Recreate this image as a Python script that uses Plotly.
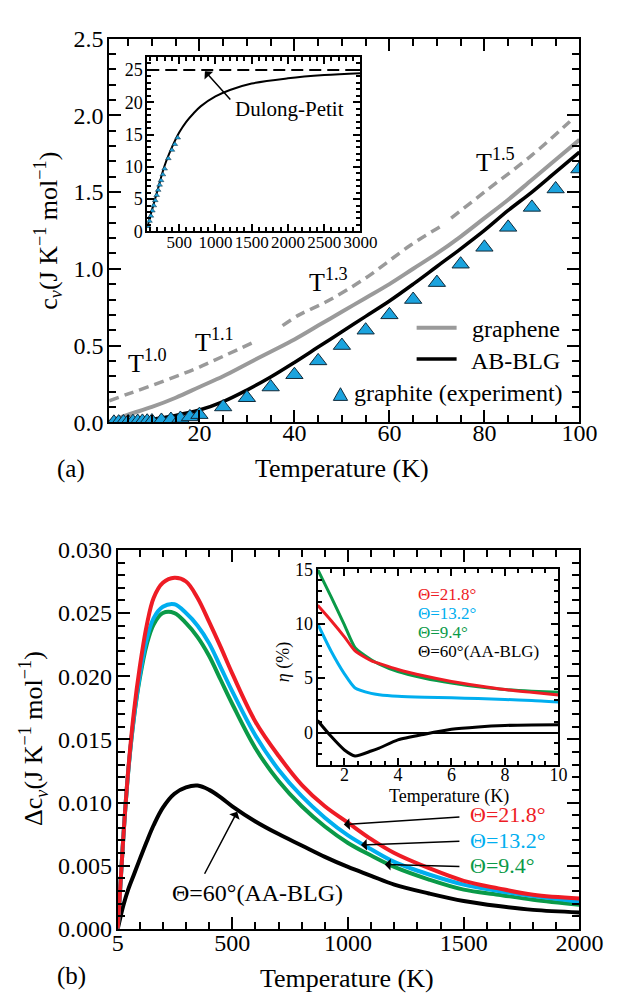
import plotly.graph_objects as go

# ---------------- Panel (a) data ----------------
T_a = [1, 5, 10, 15, 20, 25, 30, 35, 40, 45, 50, 55, 60, 65, 70, 75, 80, 85, 90, 95, 100]
cv_graphene = [0.005, 0.05, 0.10, 0.16, 0.23, 0.30, 0.38, 0.46, 0.54, 0.63, 0.72, 0.81, 0.90,
               1.00, 1.10, 1.21, 1.33, 1.45, 1.58, 1.71, 1.84]
cv_ab_blg = [0.0, 0.005, 0.02, 0.045, 0.08, 0.135, 0.21, 0.295, 0.39, 0.49, 0.59, 0.69, 0.79,
             0.90, 1.015, 1.13, 1.25, 1.38, 1.50, 1.63, 1.76]

T_exp = [2, 3, 4, 5, 6, 7, 8, 9, 10, 12, 14, 16, 18, 20, 25, 30, 35, 40, 45, 50, 55, 60, 65,
         70, 75, 80, 85, 90, 95, 100]
cv_exp = [0.0, 0.001, 0.002, 0.003, 0.004, 0.005, 0.006, 0.007, 0.008, 0.012, 0.018, 0.025,
          0.035, 0.05, 0.10, 0.16, 0.23, 0.31, 0.40, 0.50, 0.60, 0.70, 0.80, 0.91, 1.03, 1.14,
          1.27, 1.40, 1.52, 1.65]

# power-law fit guides (dashed)
fit1_T = [1, 5, 10, 16, 20, 25, 32]
fit1_v = [0.14, 0.185, 0.24, 0.31, 0.36, 0.43, 0.53]
fit2_T = [37.5, 41, 47, 55, 64.5, 71]
fit2_v = [0.63, 0.70, 0.79, 0.94, 1.155, 1.28]
fit3_T = [73, 80, 90, 98]
fit3_v = [1.33, 1.50, 1.74, 1.96]

# inset (a)
T_in = [60, 100, 200, 300, 400, 500, 600, 700, 800, 1000, 1200, 1500, 2000, 2500, 3000]
cv_in = [0.6, 2.3, 6.3, 10.2, 13.0, 15.3, 17.0, 18.3, 19.4, 20.9, 21.9, 22.9, 23.7, 24.2, 24.5]
T_in_exp = [70, 90, 110, 130, 150, 170, 190, 210, 230, 250, 275, 300, 350, 400, 440, 480]
cv_in_exp = [0.8, 1.6, 2.4, 3.2, 4.0, 4.8, 5.6, 6.4, 7.2, 7.9, 8.8, 9.7, 11.3, 12.6, 13.5, 14.5]
dulong_petit = 25.0

# ---------------- Panel (b) data ----------------
T_b = [5, 15, 30, 50, 75, 100, 130, 160, 200, 250, 300, 350, 400, 450, 500, 600, 700, 800,
       900, 1000, 1100, 1200, 1350, 1500, 1650, 1800, 2000]
dcv_218 = [0, 0.0030, 0.0075, 0.0125, 0.0172, 0.0207, 0.0240, 0.0262, 0.0274, 0.0278, 0.0275,
           0.0262, 0.0243, 0.0223, 0.0202, 0.0164, 0.0137, 0.0114, 0.0097, 0.0084, 0.0071,
           0.0060, 0.0048, 0.0038, 0.0032, 0.0027, 0.0024]
dcv_132 = [0, 0.0030, 0.0075, 0.0124, 0.0168, 0.0200, 0.0229, 0.0246, 0.0255, 0.0257, 0.0250,
           0.0240, 0.0226, 0.0207, 0.0188, 0.0153, 0.0126, 0.0105, 0.0088, 0.0074, 0.0063,
           0.0053, 0.0043, 0.0035, 0.0030, 0.0026, 0.00216]
dcv_94 = [0, 0.0030, 0.0075, 0.0124, 0.0167, 0.0198, 0.0225, 0.0241, 0.0250, 0.0250, 0.0242,
          0.0231, 0.0216, 0.0197, 0.0178, 0.0143, 0.0117, 0.0097, 0.0081, 0.0068, 0.0058,
          0.0049, 0.0039, 0.0031, 0.0027, 0.0023, 0.0019]
dcv_60 = [0, 0.0008, 0.0019, 0.0031, 0.0043, 0.0055, 0.0069, 0.0082, 0.0096, 0.0107, 0.0112,
          0.01134, 0.0110, 0.0104, 0.0097, 0.0085, 0.0075, 0.0066, 0.0057, 0.0049, 0.0042,
          0.0035, 0.0028, 0.0022, 0.0018, 0.0015, 0.0013]

# inset (b)
T_eta = [1.0, 1.5, 2.0, 2.4, 3.0, 3.3, 4.0, 5.0, 6.0, 7.0, 8.0, 9.0, 10.0]
eta_218 = [11.7, 10.3, 8.8, 7.5, 6.6, 6.35, 5.8, 5.2, 4.7, 4.3, 3.95, 3.7, 3.45]
eta_132 = [10.0, 7.5, 5.4, 4.1, 3.6, 3.48, 3.34, 3.25, 3.19, 3.12, 3.04, 2.95, 2.8]
eta_94 = [15.0, 12.5, 9.9, 7.8, 6.7, 6.3, 5.6, 5.0, 4.55, 4.2, 3.95, 3.8, 3.7]
eta_60 = [1.1, -0.35, -1.6, -2.15, -1.7, -1.43, -0.68, -0.15, 0.3, 0.52, 0.65, 0.7, 0.72]

# ---------------- styling ----------------
FONT = "Liberation Serif, Times New Roman, serif"
W, H = 623, 1002
GRAY = "#9a9a9a"
RED = "#ee1c25"
BLUE = "#00aeef"
GREEN = "#0a9a48"
TRI = "#1ba3de"


def px(x):
    return x / W


def py(y):
    return 1 - y / H


fig = go.Figure()

# panel (a) main
for fx, fy in [(fit1_T, fit1_v), (fit2_T, fit2_v), (fit3_T, fit3_v)]:
    fig.add_trace(go.Scatter(x=fx, y=fy, mode="lines", xaxis="x", yaxis="y",
                             line=dict(color=GRAY, width=3.5, dash="10px,6px", shape="spline")))
fig.add_trace(go.Scatter(x=T_a, y=cv_graphene, mode="lines", xaxis="x", yaxis="y",
                         line=dict(color=GRAY, width=4, shape="spline")))
fig.add_trace(go.Scatter(x=T_a, y=cv_ab_blg, mode="lines", xaxis="x", yaxis="y",
                         line=dict(color="black", width=3.5, shape="spline")))
fig.add_trace(go.Scatter(x=T_exp, y=cv_exp, mode="markers", xaxis="x", yaxis="y",
                         marker=dict(symbol="triangle-up", size=15, color=TRI,
                                     line=dict(color="#102a3a", width=1))))

# inset (a)
fig.add_trace(go.Scatter(x=T_in, y=cv_in, mode="lines", xaxis="x2", yaxis="y2",
                         line=dict(color="black", width=2, shape="spline")))
fig.add_trace(go.Scatter(x=T_in_exp, y=cv_in_exp, mode="markers", xaxis="x2", yaxis="y2",
                         marker=dict(symbol="triangle-up", size=5, color=TRI,
                                     line=dict(color="#102a3a", width=0.5))))

# panel (b) main
for yv, col in [(dcv_60, "black"), (dcv_94, GREEN), (dcv_132, BLUE), (dcv_218, RED)]:
    fig.add_trace(go.Scatter(x=T_b, y=yv, mode="lines", xaxis="x3", yaxis="y3",
                             line=dict(color=col, width=4, shape="spline")))

# inset (b)
for yv, col in [(eta_60, "black"), (eta_132, BLUE), (eta_94, GREEN), (eta_218, RED)]:
    fig.add_trace(go.Scatter(x=T_eta, y=yv, mode="lines", xaxis="x4", yaxis="y4",
                             line=dict(color=col, width=3, shape="spline", smoothing=0.6)))


def axis(domain, rng, dtick, tick0, mdtick, fsize, tlen, mlen, anchor, fmt=None,
         tickvals=None, zeroline=False, standoff=0):
    d = dict(domain=domain, range=rng, anchor=anchor, showline=True, linecolor="black",
             linewidth=2, mirror="allticks", ticks="inside", ticklen=tlen, tickwidth=2,
             tickcolor="black", showgrid=False, zeroline=zeroline, tickangle=0,
             ticklabelstandoff=standoff,
             tickfont=dict(family=FONT, size=fsize, color="black"),
             minor=dict(ticks="inside", ticklen=mlen, tickwidth=1.5, tickcolor="black",
                        dtick=mdtick, tick0=0, showgrid=False))
    if tickvals is not None:
        d.update(tickmode="array", tickvals=tickvals)
    else:
        d.update(tickmode="linear", dtick=dtick, tick0=tick0)
    if fmt:
        d["tickformat"] = fmt
    if zeroline:
        d.update(zerolinecolor="black", zerolinewidth=1.5)
    return d


fig.update_layout(
    width=W, height=H, margin=dict(l=0, r=0, t=0, b=0),
    paper_bgcolor="white", plot_bgcolor="white", showlegend=False,
    font=dict(family=FONT, color="black"),
    xaxis=axis([px(100), px(594)], [1, 100], 20, 0, 5, 24, 12, 7, "y", standoff=-12),
    yaxis=axis([py(412), py(18)], [0, 2.5], 0.5, 0, 0.1, 24, 12, 7, "x", fmt=".1f", standoff=-1),
    xaxis2=axis([px(140), px(364)], [60, 3000], 500, 0, 100, 17, 7, 4, "y2", standoff=-6),
    yaxis2=axis([py(216), py(37)], [0, 27], 5, 0, 1, 18, 7, 4, "x2", standoff=-1),
    xaxis3=axis([px(109), px(594)], [5, 2000], None, None, 100, 24, 12, 7, "y3",
                tickvals=[5, 500, 1000, 1500, 2000], standoff=-9),
    yaxis3=axis([py(932), py(543)], [0, 0.030], 0.005, 0, 0.001, 24, 12, 7, "x3", fmt=".3f",
                standoff=-1),
    xaxis4=axis([px(319), px(572)], [1, 10], 2, 0, 0.5, 18, 7, 4, "y4", standoff=-8),
    yaxis4=axis([py(764), py(563)], [-3, 15], 5, 0, 1, 18, 7, 4, "x4", zeroline=True,
                standoff=-1),
)

# Dulong-Petit limit line in inset (a)
fig.add_shape(type="line", xref="x2 domain", yref="y2", x0=0, x1=1, y0=dulong_petit,
              y1=dulong_petit, line=dict(color="black", width=2, dash="12px,6px"))

# legend of panel (a)
fig.add_shape(type="line", xref="paper", yref="paper", x0=px(423), x1=px(465), y0=py(315),
              y1=py(315), line=dict(color=GRAY, width=4))
fig.add_shape(type="line", xref="paper", yref="paper", x0=px(423), x1=px(465), y0=py(347),
              y1=py(347), line=dict(color="black", width=3.5))
fig.add_shape(type="path", xref="paper", yref="paper",
              path=f"M {px(335.5)},{py(389.5)} L {px(350.5)},{py(389.5)} L {px(343)},{py(376.5)} Z",
              fillcolor=TRI, line=dict(color="#102a3a", width=1))

ann = []


def text(x, y, s, size, color="black", xanchor="center", yanchor="middle", angle=0):
    ann.append(dict(x=px(x), y=py(y), xref="paper", yref="paper", text=s, showarrow=False,
                    font=dict(family=FONT, size=size, color=color), xanchor=xanchor,
                    yanchor=yanchor, textangle=angle))


def arrow(xr, yr, x, y, ax, ay, width=1.5):
    ann.append(dict(x=x, y=y, ax=ax, ay=ay, xref=xr, yref=yr, axref=xr, ayref=yr, text="",
                    showarrow=True, arrowhead=1, arrowsize=1.3, arrowwidth=width,
                    arrowcolor="black"))


# panel (a) texts
text(576, 316, "graphene", 24, xanchor="right")
text(576, 349, "AB-BLG", 24, xanchor="right")
text(579, 382, "graphite (experiment)", 24, xanchor="right")
text(118, 350, "T<sup>1.0</sup>", 26, xanchor="left")
text(188, 328, "T<sup>1.1</sup>", 26, xanchor="left")
text(308, 266, "T<sup>1.3</sup>", 26, xanchor="left")
text(483, 143, "T<sup>1.5</sup>", 26, xanchor="left")
text(289, 90, "Dulong-Petit", 21)
text(345, 459, "Temperature (K)", 26)
text(36, 215, "c<sub><i>v</i></sub>(J K<sup>\u22121</sup> mol<sup>\u22121</sup>)", 26, angle=-90)
text(60, 460, "(a)", 25)
arrow("x2", "y2", 855, 24.8, 1224, 20.2)

# panel (b) texts
text(477, 815, "\u0398=21.8\u00b0", 22, color=RED, xanchor="left")
text(477, 841, "\u0398=13.2\u00b0", 22, color=BLUE, xanchor="left")
text(477, 867, "\u0398=9.4\u00b0", 22, color=GREEN, xanchor="left")
text(256, 895, "\u0398=60\u00b0(AA-BLG)", 24)
arrow("x3", "y3", 982, 0.00826, 1488, 0.00887)
arrow("x3", "y3", 1056, 0.00664, 1488, 0.00694)
arrow("x3", "y3", 1159, 0.0051, 1488, 0.00494)
arrow("x3", "y3", 521, 0.00926, 377, 0.00424)
text(350, 983, "Temperature (K)", 26)
text(20, 737, "\u0394c<sub><i>v</i></sub>(J K<sup>\u22121</sup> mol<sup>\u22121</sup>)", 26, angle=-90)
text(60, 980, "(b)", 25)

# inset (b) texts
text(422, 588.5, "\u0398=21.8\u00b0", 17, color=RED, xanchor="left")
text(422, 608, "\u0398=13.2\u00b0", 17, color=BLUE, xanchor="left")
text(422, 627.5, "\u0398=9.4\u00b0", 17, color=GREEN, xanchor="left")
text(422, 647, "\u0398=60\u00b0(AA-BLG)", 17, xanchor="left")
text(457, 796, "Temperature (K)", 18)
text(284, 658, "<i>\u03b7</i> (%)", 18, angle=-90)

fig.update_layout(annotations=ann)
fig.write_html("out.html")
